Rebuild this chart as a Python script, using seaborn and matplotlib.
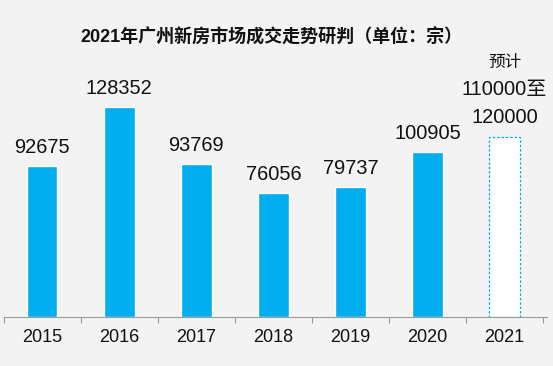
import numpy as np
import matplotlib.pyplot as plt
import seaborn as sns

# 广州新房成交宗数 (2021 为预计值下限)
years = ["2015", "2016", "2017", "2018", "2019", "2020", "2021"]
deals = [92675, 128352, 93769, 76056, 79737, 100905, 110000]
value_labels = ["92675", "128352", "93769", "76056", "79737", "100905", ""]
forecast_lines = ["120000", "110000至", "预计"]
title = "2021年广州新房市场成交走势研判（单位：宗）"

blue = "#00aeef"

sns.set_theme(style="white")
plt.rcParams["font.family"] = ["Liberation Sans", "Noto Sans CJK SC", "DejaVu Sans"]

fig = plt.figure(figsize=(5.53, 3.66), dpi=100, facecolor="#f3f3f3")
ax = fig.add_axes([3.5 / 553, 49.5 / 366, 543.5 / 553, 256.5 / 366])
ax.set_facecolor("none")

sns.barplot(x=years, y=deals, hue=years, palette=[blue] * len(years),
            legend=False, width=0.4, saturation=1, ax=ax)

# last bar is the forecast: white with dashed outline
fc = ax.patches[-1]
fc.set_facecolor("white")
fc.set_edgecolor(blue)
fc.set_linestyle((0, (2, 1.5)))
fc.set_linewidth(0.9)

ax.set_ylim(0, 157500)
ax.set_xlim(-0.5, 6.55)

for patch, lab in zip(ax.patches, value_labels):
    if not lab:
        continue
    ax.annotate(lab, (patch.get_x() + patch.get_width() / 2, patch.get_height()),
                xytext=(0, 9.4), textcoords="offset points",
                ha="center", va="baseline", fontsize=14.4, color="#111111")

cx = fc.get_x() + fc.get_width() / 2
for line, off, size in zip(forecast_lines, [10, 30.2, 51], [14.4, 14.4, 12]):
    ax.annotate(line, (cx, fc.get_height()), xytext=(0, off),
                textcoords="offset points", ha="center", va="baseline",
                fontsize=size, color="#111111")

ax.set_yticks([])
ax.set_xticks(range(len(years)))
ax.set_xticklabels(years)
ax.set_xticks(np.arange(-0.5, len(years)), minor=True)
ax.tick_params(axis="x", which="major", length=0, pad=9, labelsize=13, labelcolor="#111111")
ax.tick_params(axis="x", which="minor", length=4.3, width=0.8, color="#9a9a9a", direction="out", bottom=True)
for s in ["left", "top", "right"]:
    ax.spines[s].set_visible(False)
ax.spines["bottom"].set_color("#9a9a9a")
ax.spines["bottom"].set_linewidth(0.8)

fig.text(271.5 / 553, 1 - 37 / 366, title, ha="center", va="center",
         fontsize=13, fontweight="bold", color="#111111")

fig.savefig("out.png", dpi=100, facecolor=fig.get_facecolor())
